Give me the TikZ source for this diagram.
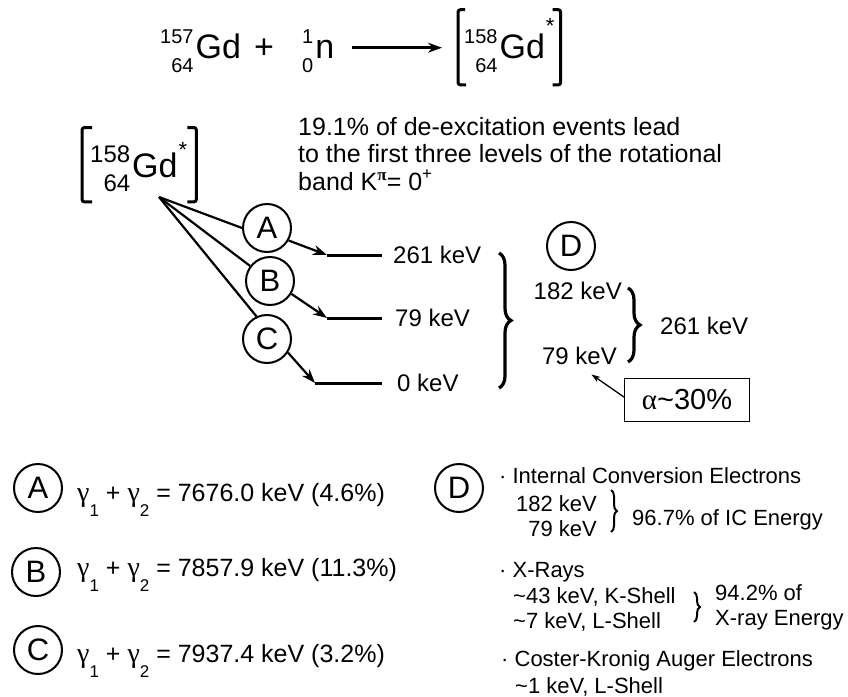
\documentclass[tikz,border=0pt]{standalone}
\usepackage{fontspec}
\setmainfont{Liberation Sans}
\newfontfamily\greekfont{Liberation Serif}
\usetikzlibrary{positioning,arrows.meta,decorations.pathreplacing}

% nuclide with mass number over atomic number
\newcommand{\nuc}[4]{\raisebox{-14pt}{\fontsize{#1}{29}\selectfont\begin{tabular}[b]{@{}r@{}}#2\\#3\end{tabular}}\kern2pt#4}
\newcommand{\excited}[1][30pt]{\kern1pt\raisebox{#1}{\fontsize{22}{22}\selectfont *}}
\newcommand{\gam}[1]{{\greekfont\fontsize{28}{28}\selectfont γ}\raisebox{-15pt}{\fontsize{17}{17}\selectfont #1}}

\begin{document}
\begin{tikzpicture}[x=1pt, y=-1pt,
    iso/.style={inner sep=0pt, anchor=base west, font=\fontsize{34}{38}\selectfont},
    sqbr/.style={line width=3pt, rounded corners=2.5pt},
    tag/.style={circle, draw, line width=2pt, minimum size=48pt, inner sep=0pt,
        font=\fontsize{31}{31}\selectfont},
    ray/.style={line width=2.2pt},
    arr/.style={-{Stealth[length=14pt,width=10pt]}, line width=2.2pt},
    bigarr/.style={-{Stealth[length=14pt,width=10pt]}, line width=2.6pt},
    lvl/.style={line width=3pt},
    keV/.style={inner sep=0pt, font=\fontsize{24}{28}\selectfont},
    note/.style={inner sep=0pt, anchor=base west, font=\fontsize{25}{28}\selectfont},
    eqn/.style={inner sep=0pt, anchor=base west, font=\fontsize{25}{28}\selectfont},
    small/.style={inner sep=0pt, anchor=base west, font=\fontsize{22}{25}\selectfont},
    brc/.style={decorate, decoration={brace, amplitude=12pt}, line width=3.2pt},
    sbrc/.style={decorate, decoration={brace, amplitude=6pt}, line width=2pt},
    abox/.style={draw, line width=1.3pt, minimum width=125pt, minimum height=43pt,
        inner sep=0pt, font=\fontsize{29}{29}\selectfont},
    pointer/.style={-{Stealth[length=9pt,width=6pt]}, line width=1.3pt}
]
  \useasboundingbox (0,0) rectangle (848,696);

  % Reaction
  \node[iso] (gdA) at (160,58) {\nuc{20}{157}{64}{Gd}};
  \node[iso] (plus) at (254,58) {+};
  \node[iso] (neut) at (302,58) {\nuc{20}{1}{0}{n}};
  \node[iso] (gdB) at (464,58) {\nuc{20}{158}{64}{Gd}\excited[25pt]};

  \draw[bigarr] ([xshift=18pt,yshift=4pt]neut.east) -- ([xshift=-22pt,yshift=4pt]neut.east -| gdB.west);
  \draw[sqbr] ([xshift=1pt,yshift=8pt]gdB.north west) -| ([xshift=-6pt,yshift=-4pt]gdB.south west) -- ++(8pt,0);
  \draw[sqbr] ([xshift=-2pt,yshift=8pt]gdB.north east) -| ([xshift=6pt,yshift=-4pt]gdB.south east) -- ++(-8pt,0);

  % Excited nucleus
  \node[iso] (gdL) at (90,177) {\nuc{24}{158}{64}{Gd}\excited[20pt]};
  \draw[sqbr] ([xshift=2pt,yshift=14pt]gdL.north west) -| ([xshift=-8pt,yshift=-2pt]gdL.south west) -- ++(10pt,0);
  \draw[sqbr] ([yshift=14pt]gdL.north east) -| ([xshift=9pt,yshift=-2pt]gdL.south east) -- ++(-9pt,0);
  \coordinate (src) at (159,197);

  \node[note] (n1) at (298,135) {19.1\% of de-excitation events lead};
  \node[note] (n2) at ([yshift=-27pt]n1.base west) {to the first three levels of the rotational};
  \node[note] (n3) at ([yshift=-28pt]n2.base west) {band K\raisebox{10pt}{\fontsize{17}{17}\greekfont\bfseries π}= 0\raisebox{11pt}{\fontsize{17}{17}\selectfont +}};

  % Branches
  \node[tag] (cA) at (267,228) {A};
  \node[tag] (cB) at (270,281) {B};
  \node[tag] (cC) at (267,339) {C};

  \draw[ray] (src) -- (cA.west);
  \draw[ray] (src) -- (cB);
  \draw[ray] (src) -- (cC.115);

  % Levels
  \coordinate (e261) at (327,255);
  \coordinate (e79) at (327,318);
  \coordinate (e0) at (315,383);
  \draw[lvl] (e261) -- ++(55pt,0) coordinate (f261);
  \draw[lvl] (e79) -- ++(55pt,0) coordinate (f79);
  \draw[lvl] (e0) -- ++(67pt,0) coordinate (f0);

  \draw[arr] (cA.-30) -- (e261);
  \draw[arr] (cB.-31) -- (e79);
  \draw[arr] (cC.-33) -- (e0);

  \node[keV, right=11pt of f261] (t261) {261 keV};
  \node[keV, right=13pt of f79] (t79) {79 keV};
  \node[keV, right=15pt of f0] (t0) {0 keV};

  \draw[brc] (499,253) -- (499,388);

  % Conversion
  \node[tag] (cD) at (571,246) {D};
  \node[keV, anchor=base east] (t182b) at (622,299) {182 keV};
  \node[keV, anchor=base east] (t79b) at (617,364) {79 keV};
  \draw[brc] (628,288) -- (628,362);
  \node[keV, anchor=base west] (t261b) at (660,334) {261 keV};

  \node[abox] (alpha) at (687,400) {{\greekfont α}\textasciitilde30\%};
  \draw[pointer] ([yshift=3pt]alpha.west) -- ([xshift=12pt,yshift=-10pt]t79b.south);

  % Gamma sums
  \node[tag] (bA) at (38,488) {A};
  \node[tag] (bB) at (36,572) {B};
  \node[tag] (bC) at (38,650) {C};
  \node[eqn] (sA) at (77,501) {\gam{1} + \gam{2} = 7676.0 keV (4.6\%)};
  \node[eqn] (sB) at (77,576) {\gam{1} + \gam{2} = 7857.9 keV (11.3\%)};
  \node[eqn] (sC) at (77,662) {\gam{1} + \gam{2} = 7937.4 keV (3.2\%)};

  % Emissions of D
  \node[tag] (bD) at (459,488) {D};
  \node[small] (ic) at (499,483) {· Internal Conversion Electrons};
  \node[small, anchor=base east] (ic182) at (597,511) {182 keV};
  \node[small, anchor=base east] (ic79) at (597,536) {79 keV};
  \draw[sbrc] (611,490) -- (611,532);
  \node[small] (icE) at (632,525) {96.7\% of IC Energy};

  \node[small] (xr) at (499,577) {· X-Rays};
  \node[small] (xr43) at (513,603) {\textasciitilde43 keV, K-Shell};
  \node[small] (xr7) at (513,628) {\textasciitilde7 keV, L-Shell};
  \draw[sbrc] (694,592) -- (694,622);
  \node[small] (xrE1) at (715,600) {94.2\% of};
  \node[small] (xrE2) at (715,625) {X-ray Energy};

  \node[small] (ck) at (501,666) {· Coster-Kronig Auger Electrons};
  \node[small] (ck1) at (515,693) {\textasciitilde1 keV, L-Shell};

\end{tikzpicture}
\end{document}
